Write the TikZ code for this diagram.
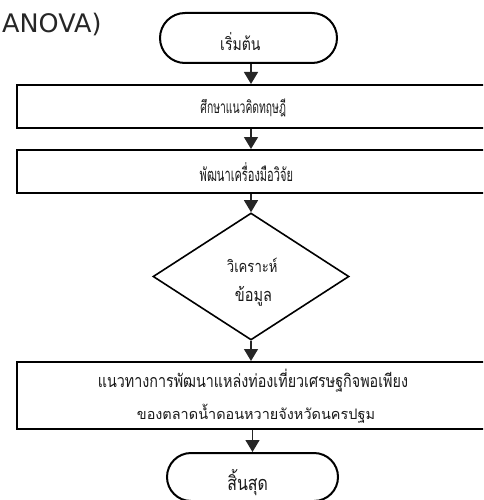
\documentclass[tikz,border=0pt]{standalone}
\usepackage{fontspec}
\setmainfont{DejaVu Sans}
\newfontfamily\thai[Script=Thai]{Loma}
\newfontfamily\thaiN[Script=Thai,FakeStretch=0.6]{Loma}
\newfontfamily\thaiM[Script=Thai,FakeStretch=0.8]{Loma}
\usetikzlibrary{shapes.geometric,arrows.meta}
\newcommand\tw[3]{\resizebox{#2}{!}{#1 #3}}
\begin{document}
\begin{tikzpicture}[x=1pt,y=1pt,
  box/.style={draw=black,line width=2pt,rectangle,minimum width=483pt,inner sep=0pt},
  term/.style={draw=black,line width=2pt,rectangle,inner sep=0pt},
  dia/.style={draw=black,line width=1.6pt,diamond,inner sep=0pt,minimum width=196pt,minimum height=127pt},
  lbl/.style={inner sep=0pt,text=black!90},
  arr/.style={line width=1.3pt,draw=black!85,-{Triangle[width=14pt,length=12pt]}},
]
\useasboundingbox (0,0) rectangle (483,-500);
\clip (0,0) rectangle (483,-500);
\node[lbl,anchor=base west,font=\fontsize{25.5}{30}\selectfont,text=black!85] (title) at (2,-33) {ANOVA)};
\node[term,minimum width=177pt,minimum height=50pt,rounded corners=25pt] (start) at (248.5,-38) {};
\node[lbl] (starttxt) at (238,-42) {\tw{\thaiM}{45pt}{เริ่มต้น}};
\node[box,minimum height=43pt] (box1) at (258.5,-106.5) {};
\node[lbl] (box1txt) at (241.5,-108) {\tw{\thaiN}{89pt}{ศึกษาแนวคิดทฤษฎี}};
\node[box,minimum height=43pt] (box2) at (258.5,-171.5) {};
\node[lbl] (box2txt) at (244.5,-172) {\tw{\thaiN}{97pt}{พัฒนาเครื่องมือวิจัย}};
\node[dia] (dec) at (251,-276.5) {};
\node[lbl] (dectxt1) at (250,-265) {\tw{\thaiM}{55pt}{วิเคราะห์}};
\node[lbl] (dectxt2) at (251,-296) {\tw{\thaiM}{42pt}{ข้อมูล}};
\node[box,minimum height=67pt] (box3) at (258.5,-395.5) {};
\node[lbl] (box3txt1) at (250.5,-381) {\tw{\thaiM}{315pt}{แนวทางการพัฒนาแหล่งท่องเที่ยวเศรษฐกิจพอเพียง}};
\node[lbl] (box3txt2) at (253.5,-414) {\tw{\thai}{243pt}{ของตลาดน้ำดอนหวายจังหวัดนครปฐม}};
\node[term,minimum width=171pt,minimum height=48pt,rounded corners=24pt] (end) at (252.5,-477) {};
\node[lbl] (endtxt) at (245,-483) {\tw{\thaiM}{46pt}{สิ้นสุด}};
\draw[arr] (dec.north |- start.south) -- (dec.north |- box1.north);
\draw[arr] (dec.north |- box1.south) -- (dec.north |- box2.north);
\draw[arr] (dec.north |- box2.south) -- (dec.north);
\draw[arr] (dec.south) -- (dec.south |- box3.north);
\draw[arr] (end.north |- box3.south) -- (end.north);
\end{tikzpicture}
\end{document}
